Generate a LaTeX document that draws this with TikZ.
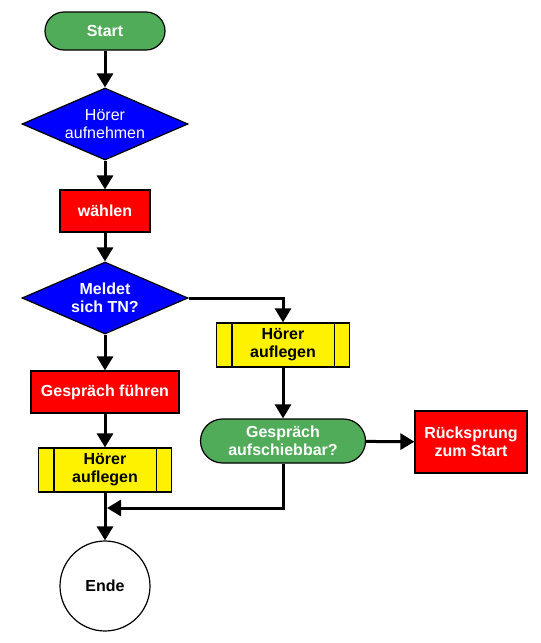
\documentclass[tikz,border=0pt]{standalone}
\usepackage{fontspec}
\setmainfont{Liberation Sans}
\usepackage{tikz}
\usetikzlibrary{arrows.meta}
\usetikzlibrary{shapes}
\usetikzlibrary{calc}

\definecolor{termgreen}{RGB}{80,172,88}
\newcommand{\sz}{\fontsize{16}{18}\selectfont}

\tikzset{
  box/.style={draw,line width=1.2pt,align=center,inner sep=0pt,font=\sz\bfseries},
  decision/.style={box,diamond,aspect=2.3,fill=blue,text=white,font=\sz,minimum width=166pt,minimum height=72pt},
  subproc/.style={box,fill=yellow,minimum width=133pt,minimum height=44pt},
  flow/.style={line width=3pt,-{Triangle[length=14pt,width=16pt]}},
}

\begin{document}
\begin{tikzpicture}[x=1pt,y=-1pt]
                    \useasboundingbox (0,0) rectangle (541,643);
                    \draw (105,31) node[box,fill=termgreen,text=white,rounded corners=19pt,minimum width=120pt,minimum height=38pt,name=S] {Start};
                    \draw (105,124) node[decision,name=D1] {Hörer\\aufnehmen};
                    \draw (105,211) node[box,fill=red,text=white,minimum width=90pt,minimum height=42pt,name=W] {wählen};
                    \draw (105,298) node[decision,font=\sz\bfseries,name=D2] {Meldet\\sich TN?};
                    \draw (105,392) node[box,fill=red,text=white,minimum width=148pt,minimum height=42pt,name=F] {Gespräch führen};
                    \draw (105,470) node[subproc,name=Y2] {Hörer\\auflegen};
                    \draw (105,586) node[box,circle,fill=white,minimum size=90pt,name=E] {Ende};
                    \draw (283,345) node[subproc,name=Y1] {Hörer\\auflegen};
                    \draw (283,441) node[box,fill=termgreen,text=white,rounded corners=22pt,minimum width=165pt,minimum height=44pt,name=G] {Gespräch\\aufschiebbar?};
                    \draw (471,442) node[box,fill=red,text=white,minimum width=112pt,minimum height=62pt,name=R] {Rücksprung\\zum Start};
                    \coordinate (J) at (107,508);
                    \foreach \y in {Y1,Y2} {
                        \draw[line width=1.2pt] ([xshift=16pt]\y.north west) -- ([xshift=16pt]\y.south west);
                        \draw[line width=1.2pt] ([xshift=-16pt]\y.north east) -- ([xshift=-16pt]\y.south east);
                    }
                    \draw[flow] (S) -- (D1);
                    \draw[flow] (D1) -- (W);
                    \draw[flow] (W) -- (D2);
                    \draw[flow] (D2) -- (F);
                    \draw[flow] (F) -- (Y2);
                    \draw[flow] (Y2) -- (E);
                    \draw[flow] (D2.east) -| (Y1.north);
                    \draw[flow] (Y1) -- (G);
                    \draw[flow] (G) -- (R);
                    \draw[flow] (G.south) |- (J);
                \end{tikzpicture}
\end{document}
